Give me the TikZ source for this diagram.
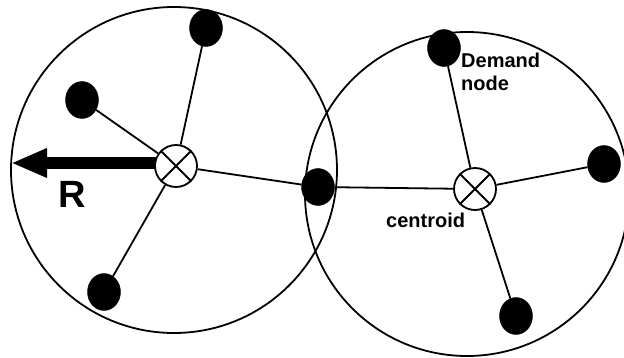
\documentclass[tikz,border=0pt]{standalone}
\usepackage{fontspec}
\setmainfont{Liberation Sans}
\usetikzlibrary{shapes.geometric,arrows.meta}
\begin{document}
\begin{tikzpicture}[x=1pt,y=-1pt,
  region/.style={draw=black,line width=1.8pt},
  demand/.style={ellipse,fill=black,draw=black,minimum width=33pt,minimum height=37pt,inner sep=0pt},
  centroidnode/.style={circle,draw=black,fill=white,line width=1.8pt,minimum size=42pt,inner sep=0pt},
  link/.style={draw=black,line width=1.8pt},
  radius arrow/.style={line width=11.5pt,-{Triangle[length=36pt,width=27pt]}},
  lbl/.style={inner sep=0pt,font=\bfseries\fontsize{20}{23}\selectfont}
]
\useasboundingbox (0,0) rectangle (624,358);
\clip (0,0) rectangle (624,358);
% regions
\draw[region] (174,170) circle[radius=163];
\draw[region] (467,194) circle[radius=162];
% radius arrow
\coordinate (Rstart) at (172,163);
\coordinate (Rtip) at (11,163);
\draw[radius arrow] (Rstart) -- (Rtip);
% centroids
\node[centroidnode] (c1) at (176,166) {};
\node[centroidnode] (c2) at (475,189) {};
\foreach \c in {c1,c2}{
  \draw[link] (\c.45) -- (\c.225);
  \draw[link] (\c.135) -- (\c.315);
}
% demand nodes
\node[demand] (a1) at (206,28) {};
\node[demand] (a2) at (82,100) {};
\node[demand] (a3) at (104,292) {};
\node[demand] (s) at (318,187) {};
\node[demand] (b1) at (444,48) {};
\node[demand] (b2) at (604,164) {};
\node[demand] (b3) at (516,316) {};
% links
\draw[link] (c1) -- (a1);
\draw[link] (c1) -- (a2);
\draw[link] (c1) -- (a3);
\draw[link] (c1) -- (s);
\draw[link] (c2) -- (s);
\draw[link] (c2) -- (b1);
\draw[link] (c2) -- (b2);
\draw[link] (c2) -- (b3);
% labels
\node[lbl,anchor=north west,align=left] (dn) at (461,53) {Demand\\node};
\node[lbl,anchor=base west] (cl) at (386,228) {centroid};
\node[inner sep=0pt,anchor=base west,font=\bfseries\fontsize{38}{40}\selectfont] (rl) at (58,208) {R};
\end{tikzpicture}
\end{document}
